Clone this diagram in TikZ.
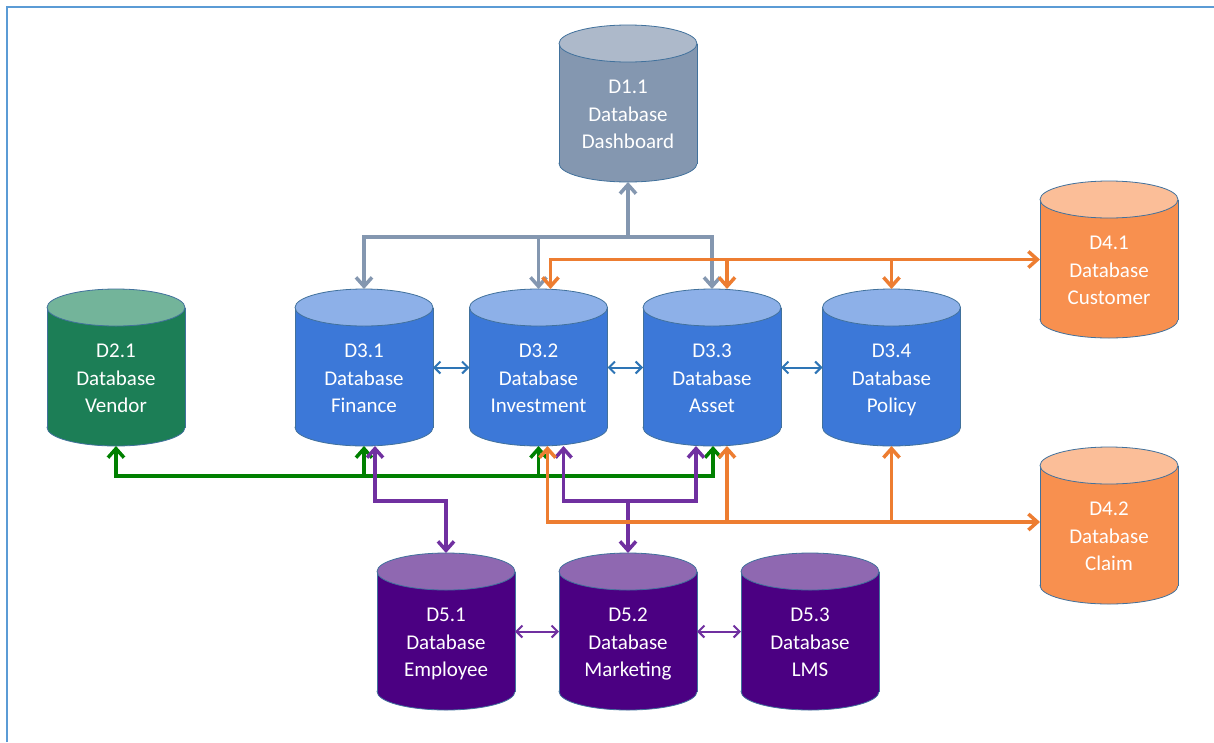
\documentclass[tikz,border=0pt]{standalone}
\usepackage{fontspec}
\setmainfont{Carlito}
\usetikzlibrary{arrows.meta}
\definecolor{frameblue}{HTML}{5B9BD5}
\definecolor{dboutline}{HTML}{41719C}
\definecolor{graybody}{HTML}{8497B0}
\definecolor{graytop}{HTML}{ADB9CA}
\definecolor{greenbody}{HTML}{1C7E56}
\definecolor{greentop}{HTML}{73B49A}
\definecolor{bluebody}{HTML}{3C78D8}
\definecolor{bluetop}{HTML}{8DB0E8}
\definecolor{orangebody}{HTML}{F8904F}
\definecolor{orangetop}{HTML}{FBBE98}
\definecolor{purplebody}{HTML}{4B0082}
\definecolor{purpletop}{HTML}{8F68B1}
\definecolor{cgray}{HTML}{8497B0}
\definecolor{corange}{HTML}{ED7D31}
\definecolor{cgreen}{HTML}{008000}
\definecolor{cpurple}{HTML}{7030A0}
\definecolor{cblue}{HTML}{2E75B6}
\tikzset{
  dbbox/.style={rectangle,minimum width=138pt,minimum height=157pt,inner sep=0pt,outer sep=0pt},
  dbtext/.style={text=white,align=center,font=\fontsize{21}{27.3}\selectfont},
  bigarrow/.style={line width=3.5pt,arrows={-Straight Barb[length=9pt,width=16pt]}},
  bigboth/.style={line width=3.5pt,arrows={Straight Barb[length=9pt,width=16pt]-Straight Barb[length=9pt,width=16pt]}},
  thinboth/.style={line width=2pt,arrows={Straight Barb[length=6pt,width=12pt]-Straight Barb[length=6pt,width=12pt]}},
}
\newcommand\dbcyl[6]{%
  \filldraw[fill=#4,draw=dboutline,line width=0.8pt] (#2,#3+138.5) ellipse [x radius=69, y radius=18.5];
  \fill[#4] (#2-69,#3+18.5) rectangle (#2+69,#3+138.5);
  \draw[dboutline,line width=0.8pt] (#2-69,#3+18.5) -- (#2-69,#3+138.5) (#2+69,#3+18.5) -- (#2+69,#3+138.5);
  \filldraw[fill=#5,draw=dboutline,line width=0.8pt] (#2,#3+18.5) ellipse [x radius=69, y radius=18.5];
  \node[dbbox] (#1) at (#2,#3+78.5) {};
  \node[dbtext] at ([yshift=-15pt]#1.center) {#6\strut};
}
\begin{document}
\begin{tikzpicture}[x=1pt,y=-1pt]
\useasboundingbox (0,0) rectangle (1214,742);
\fill[white] (0,0) rectangle (1214,742);
\draw[frameblue,line width=2pt] (7,742) -- (7,7) -- (1214,7);

\dbcyl{d11}{628}{25}{graybody}{graytop}{D1.1\\Database\\Dashboard}
\dbcyl{d21}{116}{289}{greenbody}{greentop}{D2.1\\Database\\Vendor}
\dbcyl{d31}{364}{289}{bluebody}{bluetop}{D3.1\\Database\\Finance}
\dbcyl{d32}{538.5}{289}{bluebody}{bluetop}{D3.2\\Database\\Investment}
\dbcyl{d33}{712}{289}{bluebody}{bluetop}{D3.3\\Database\\Asset}
\dbcyl{d34}{891.5}{289}{bluebody}{bluetop}{D3.4\\Database\\Policy}
\dbcyl{d41}{1109}{181}{orangebody}{orangetop}{D4.1\\Database\\Customer}
\dbcyl{d42}{1109}{447}{orangebody}{orangetop}{D4.2\\Database\\Claim}
\dbcyl{d51}{446}{553}{purplebody}{purpletop}{D5.1\\Database\\Employee}
\dbcyl{d52}{628}{553}{purplebody}{purpletop}{D5.2\\Database\\Marketing}
\dbcyl{d53}{810}{553}{purplebody}{purpletop}{D5.3\\Database\\LMS}

% gray bus
\coordinate (gbus) at (628,237);
\draw[cgray,bigarrow] (gbus) -- (d11.south);
\draw[cgray,bigarrow] (gbus) -| (d31.north);
\draw[cgray,bigarrow] (gbus) -| (d32.north);
\draw[cgray,bigarrow] (gbus) -| (d33.north);

% orange top bus
\coordinate (o32t) at ([xshift=12pt]d32.north);
\coordinate (o33t) at ([xshift=15pt]d33.north);
\draw[corange,bigboth] (o32t) |- (d41.west);
\draw[corange,bigarrow] (o33t |- d41.west) -- (o33t);
\draw[corange,bigarrow] (d34.north |- d41.west) -- (d34.north);

% green bus
\coordinate (grb) at (0,476);
\coordinate (g33) at ([xshift=1pt]d33.south);
\draw[cgreen,bigboth] (d21.south) |- (grb -| g33) -- (g33);
\draw[cgreen,bigarrow] (grb -| d31.south) -- (d31.south);
\draw[cgreen,bigarrow] (grb -| d32.south) -- (d32.south);

% purple buses
\coordinate (pb) at (0,501);
\coordinate (p31) at ([xshift=11pt]d31.south);
\coordinate (p32) at ([xshift=25pt]d32.south);
\coordinate (p33) at ([xshift=-16pt]d33.south);
\draw[cpurple,bigboth] (p31) |- (pb -| d51.north) -- (d51.north);
\draw[cpurple,bigboth] (p32) |- (pb -| p33) -- (p33);
\draw[cpurple,bigarrow] (pb -| d52.north) -- (d52.north);

% orange bottom bus
\coordinate (obb) at (0,522);
\coordinate (o32b) at ([xshift=9pt]d32.south);
\coordinate (o33b) at ([xshift=15pt]d33.south);
\draw[corange,bigboth] (o32b) |- (obb -| d42.west);
\draw[corange,bigarrow] (obb -| o33b) -- (o33b);
\draw[corange,bigarrow] (obb -| d34.south) -- (d34.south);

% thin double arrows
\draw[cblue,thinboth] (d31.east) -- (d32.west);
\draw[cblue,thinboth] (d32.east) -- (d33.west);
\draw[cblue,thinboth] (d33.east) -- (d34.west);
\draw[cpurple,thinboth] (d51.east) -- (d52.west);
\draw[cpurple,thinboth] (d52.east) -- (d53.west);
\end{tikzpicture}
\end{document}
